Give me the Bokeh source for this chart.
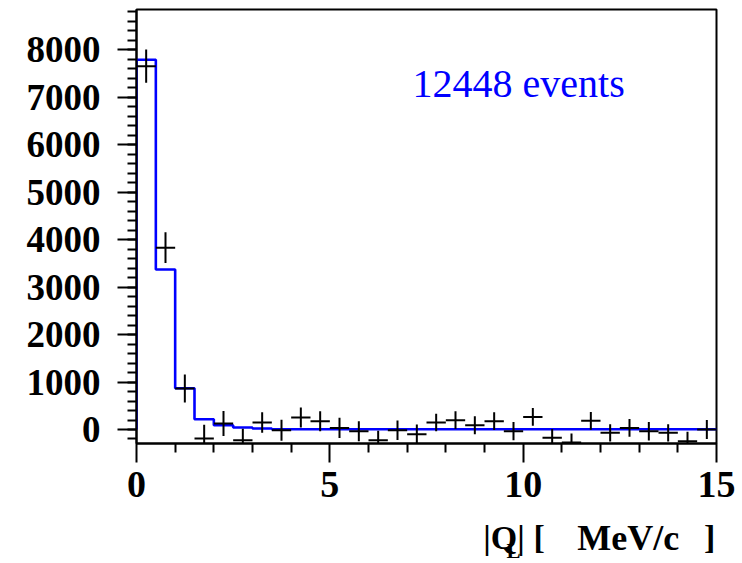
import numpy as np
from bokeh.plotting import figure
from bokeh.layouts import column
from bokeh.models import FixedTicker, Label, Range1d
from bokeh.core.properties import value
from bokeh.embed import file_html
from bokeh.resources import INLINE

# ---- data ----
bin_edges = [0.0, 0.5, 1.0, 1.5, 2.0, 2.5, 3.0, 3.5, 4.0, 4.5, 5.0, 5.5, 6.0, 6.5, 7.0,
             7.5, 8.0, 8.5, 9.0, 9.5, 10.0, 10.5, 11.0, 11.5, 12.0, 12.5, 13.0, 13.5,
             14.0, 14.5, 15.0]
data_counts = [7655, 3832, 863, -190, 126, -225, 147, -15, 253, 175, 34, -36, -225, -15,
               -99, 147, 196, 91, 175, -36, 266, -176, -274, 182, -71, 34, -36, -71,
               -246, 0]
data_errors = [350, 326, 295, 290, 263, 240, 218, 221, 210, 210, 214, 210, 200, 207, 204,
               186, 186, 189, 186, 193, 189, 186, 189, 186, 182, 186, 196, 182, 196, 200]
fit_counts = [7790, 3370, 870, 217, 90, 42, 21, 6, 6, 6, 6, 6, 6, 6, 6,
              6, 6, 6, 6, 6, 6, 6, 6, 6, 6, 6, 6, 6, 6, 6]
y_ticks = [0, 1000, 2000, 3000, 4000, 5000, 6000, 7000, 8000]
x_ticks = [0, 5, 10, 15]
annotation = "12448 events"
x_title_parts = ["|Q", "L", "|", "[", "MeV/c", "]"]

edges = np.array(bin_edges)
lo, hi = edges[:-1], edges[1:]
centers = (lo + hi) / 2
y = np.array(data_counts, dtype=float)
err = np.array(data_errors, dtype=float)
fit = np.array(fit_counts, dtype=float)

p = figure(width=742, height=510, output_backend="svg", toolbar_location=None,
           x_range=Range1d(0, 15), y_range=Range1d(-295, 8850),
           min_border_left=136, min_border_right=26, min_border_top=9,
           min_border_bottom=67)
p.xgrid.grid_line_color = None
p.ygrid.grid_line_color = None
p.background_fill_color = "white"
p.border_fill_color = "white"
p.outline_line_color = "black"
p.outline_line_width = 2

# fit histogram (step line)
sx = [bin_edges[0]]
sy = [0.0]
for a, b, v in zip(lo, hi, fit):
    sx += [a, b]
    sy += [v, v]
p.line(sx, sy, line_color="#0000ff", line_width=2.6)

# data points with error bars
p.segment(x0=lo, y0=y, x1=hi, y1=y, line_color="black", line_width=2)
p.segment(x0=centers, y0=y - err, x1=centers, y1=y + err, line_color="black", line_width=2)

# axes
for ax in (p.xaxis[0], p.yaxis[0]):
    ax.axis_line_width = 2
    ax.axis_line_color = "black"
    ax.major_tick_line_width = 2
    ax.minor_tick_line_width = 2
    ax.major_tick_in = 0
    ax.minor_tick_in = 0
    ax.major_tick_out = 19
    ax.minor_tick_out = 9
    ax.major_label_text_font = "Liberation Serif"
    ax.major_label_text_color = "black"
    ax.major_label_text_font_style = "bold"

p.xaxis.ticker = FixedTicker(ticks=x_ticks,
                             minor_ticks=[1, 2, 3, 4, 6, 7, 8, 9, 11, 12, 13, 14])
p.yaxis.ticker = FixedTicker(ticks=y_ticks,
                             minor_ticks=list(range(-200, 8900, 200)))
p.xaxis.major_label_text_font_size = "38px"
p.xaxis.major_label_standoff = 9
p.yaxis.major_label_text_font_size = "37px"
p.yaxis.major_label_standoff = 17

# annotation text
p.add_layout(Label(x=7.14, y=7290, text=annotation, text_color="#0000ff",
                   text_font="Liberation Serif", text_font_size="40px",
                   text_baseline="alphabetic", text_align="left"))

# x axis title strip: |Q_L| [ MeV/c ]  (frame aligned with the main plot's x range)
t = figure(width=742, height=53, output_backend="svg", toolbar_location=None,
           x_range=p.x_range, y_range=Range1d(53, 0),
           x_axis_type=None, y_axis_type=None,
           min_border_left=136, min_border_right=26, min_border_top=0,
           min_border_bottom=0)
t.xgrid.grid_line_color = None
t.ygrid.grid_line_color = None
t.outline_line_color = None
t.background_fill_color = "white"
t.border_fill_color = "white"
common = dict(text_font=value("Liberation Serif"), text_color="black",
              text_baseline="alphabetic", text_font_style="bold")
t.text(x=[8.97], y=[27], text=[x_title_parts[0]], text_font_size="34px",
       text_align="left", **common)
t.text(x=[9.57], y=[40], text=[x_title_parts[1]], text_font_size="21px",
       text_align="left", **common)
t.text(x=[9.85], y=[27], text=[x_title_parts[2]], text_font_size="34px",
       text_align="left", **common)
t.text(x=[10.27], y=[27], text=[x_title_parts[3]], text_font_size="34px",
       text_align="left", **common)
t.text(x=[11.40], y=[27], text=[x_title_parts[4]], text_font_size="36px",
       text_align="left", **common)
t.text(x=[14.97], y=[27], text=[x_title_parts[5]], text_font_size="34px",
       text_align="right", **common)

layout = column(p, t, spacing=0)
open("out.html", "w").write(file_html(layout, INLINE))
